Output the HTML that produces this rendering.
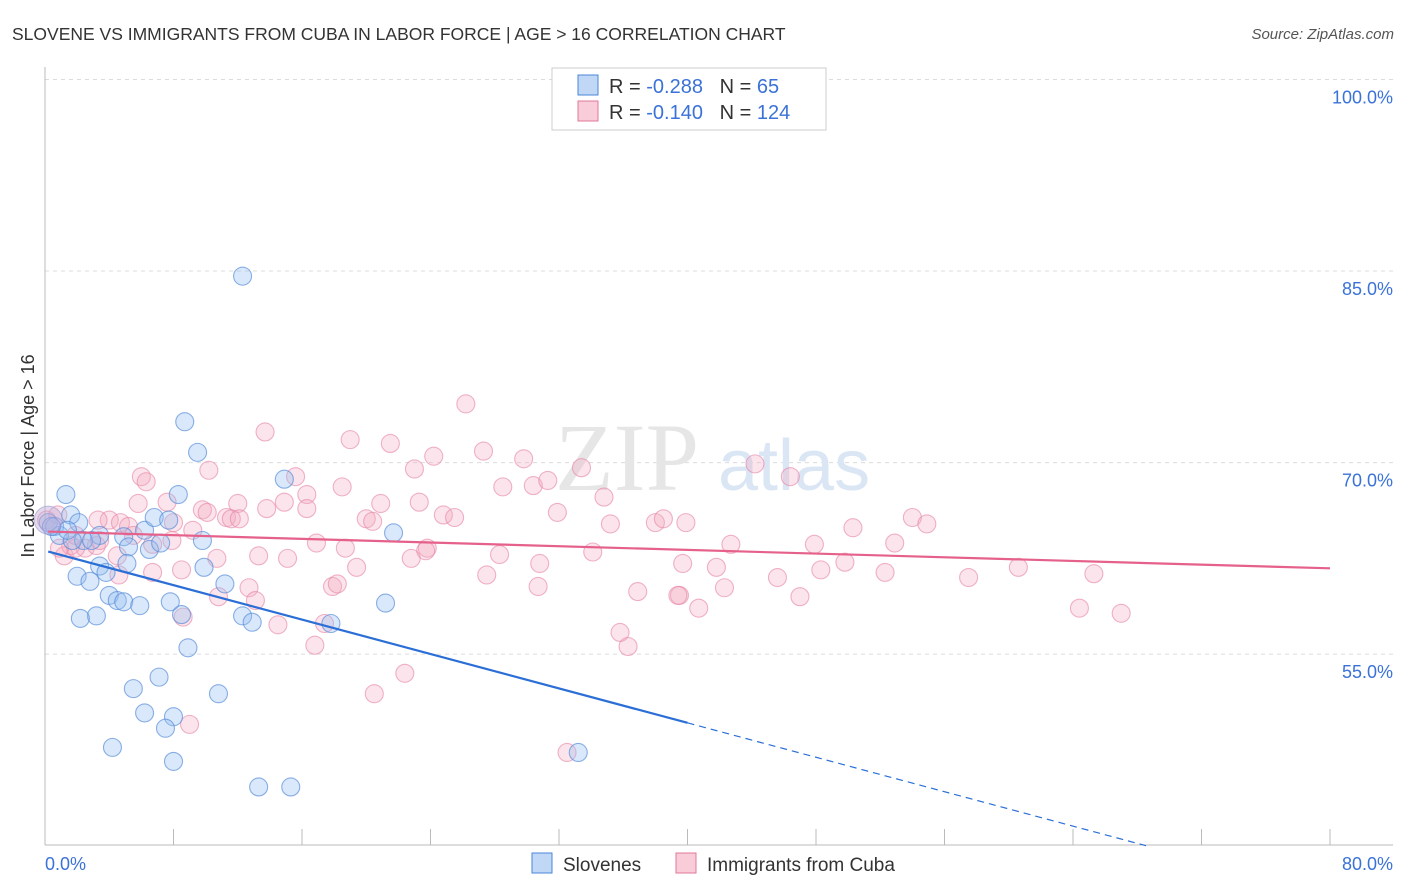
<!DOCTYPE html>
<html><head><meta charset="utf-8"><style>
body{margin:0;background:#fff;font-family:"Liberation Sans",sans-serif}
#c{position:absolute;left:0;top:0}
</style></head><body>
<svg id="c" width="1406" height="892" xmlns="http://www.w3.org/2000/svg"></svg>
<script>
const blueX=[12.3,8.7,9.5,1.3,8.3,14.9,1.6,0.2,0.6,2.1,6.2,6.8,7.7,0.9,2.4,3.4,4.9,5.2,6.5,7.2,9.8,21.7,3.4,5.1,3.8,2.0,2.8,9.9,11.2,4.0,4.5,4.9,5.9,7.8,8.5,3.2,2.2,12.3,12.9,17.8,21.2,8.9,5.5,7.1,10.8,6.2,8.0,7.5,4.2,8.0,13.3,15.3,33.2,1.7,2.9,1.4,0.4];
const blueY=[84.6,73.2,70.8,67.5,67.5,68.7,65.9,65.3,65.0,65.3,64.7,65.7,65.5,64.3,63.9,64.3,64.2,63.4,63.2,63.7,63.9,64.5,61.9,62.1,61.4,61.1,60.7,61.8,60.5,59.6,59.2,59.1,58.8,59.1,58.1,58.0,57.8,58.0,57.5,57.4,59.0,55.5,52.3,53.2,51.9,50.4,50.1,49.2,47.7,46.6,44.6,44.6,47.3,63.9,63.9,64.7,65.0];
const pinkX=[26.2,13.7,19.0,21.5,27.3,24.2,29.8,10.2,23.0,33.4,15.6,6.0,6.3,28.5,30.4,31.3,46.4,44.2,16.3,14.9,18.5,20.9,23.3,7.6,12.0,5.8,13.8,16.3,9.8,10.1,11.3,11.6,12.1,8.0,9.2,20.0,20.4,24.8,25.5,31.9,34.8,35.2,38.0,38.5,39.9,50.3,54.0,54.9,4.0,4.7,5.2,3.3,5.5,2.5,3.2,1.2,1.6,1.9,4.5,7.9,10.7,13.3,16.9,18.7,23.8,23.7,28.3,30.8,34.1,39.7,42.7,47.9,52.9,41.8,45.6,48.3,49.8,52.3,57.5,60.6,65.3,6.7,8.5,15.1,19.4,22.8,4.6,12.7,17.9,18.2,27.5,30.7,36.9,39.5,42.3,47.0,10.8,13.1,8.6,14.5,17.4,16.8,22.4,20.5,35.8,36.3,40.7,9.0,32.5,64.4,67.0,39.4,0.1,0.8,3.4,6.7,1.9,0.9];
const pinkY=[74.6,72.4,71.8,71.5,70.9,70.5,70.3,69.4,69.5,69.6,68.9,68.9,68.5,68.1,68.2,68.6,68.9,69.9,67.5,66.9,68.1,66.8,66.9,66.9,66.8,66.8,66.4,66.4,66.3,66.1,65.7,65.6,65.6,65.3,64.7,65.6,65.4,65.9,65.7,66.1,67.3,65.2,65.3,65.6,65.3,64.9,65.7,65.2,65.5,65.3,65.0,65.5,64.3,63.3,63.5,62.7,63.5,63.3,62.7,63.9,62.5,62.7,63.7,63.3,63.3,63.1,62.8,62.1,63.0,62.1,63.6,63.6,63.7,61.8,61.0,61.6,62.2,61.4,61.0,61.8,61.3,61.4,61.6,62.5,61.8,62.5,61.2,60.2,60.3,60.5,61.2,60.3,59.9,59.6,60.2,59.5,59.5,59.2,57.9,57.3,57.4,55.7,53.5,51.9,56.7,55.6,58.6,49.5,47.3,58.6,58.2,59.6,65.5,65.9,63.9,63.6,64.3,63.3];
const blueTrend=[63.1,-0.337]; // intercept, slope
const pinkTrend=[64.6,-0.036];
const yTicks=[55,70,85,100];
const yTickLabels=["55.0%","70.0%","85.0%","100.0%"];
const xTicks=[0,8,16,24,32,40,48,56,64,72,80];

const svg=document.getElementById('c');
const NS='http://www.w3.org/2000/svg';
const X=v=>45+v*16.0625;
const Y=v=>79.5+(100-v)*12.77;
function mk(t,a,txt){const e=document.createElementNS(NS,t);for(const k in a)e.setAttribute(k,a[k]);if(txt!==undefined)e.textContent=txt;svg.appendChild(e);return e;}

yTicks.forEach((v,i)=>{
  const g=mk('line',{x1:45,x2:1393,y1:Y(v),y2:Y(v),stroke:'#dcdcdc','stroke-dasharray':'4,4'});
  
  
  const t=mk('text',{x:1393,y:Y(v)+24,'text-anchor':'end','font-size':18,fill:'#3a72d8'},yTickLabels[i]);
  
  
});
let a=mk('line',{x1:45,x2:45,y1:67,y2:845,stroke:'#bbb'});


a=mk('line',{x1:45,x2:1393,y1:845,y2:845,stroke:'#bbb'});


xTicks.forEach(v=>{
  const t=mk('line',{x1:X(v),x2:X(v),y1:829,y2:845,stroke:'#bbb'});
  
  
});
let w=mk('text',{x:555,y:490,'font-size':96,fill:'#e6e6e6','font-family':'Liberation Serif,serif'},'ZIP');


w=mk('text',{x:718,y:490,'font-size':72,fill:'#dbe6f5'},'atlas');



pinkX.forEach((x,i)=>{
  const c=mk('circle',{cx:X(x),cy:Y(pinkY[i]),r:9,fill:'rgba(244,170,192,0.32)',stroke:'rgba(230,130,165,0.6)','stroke-width':1.1});
  
  
});
blueX.forEach((x,i)=>{
  const c=mk('circle',{cx:X(x),cy:Y(blueY[i]),r:9,fill:'rgba(150,190,240,0.36)',stroke:'rgba(80,135,215,0.65)','stroke-width':1.1});
  
  
});
let big=mk('circle',{cx:X(0.2),cy:Y(65.5),r:14,fill:'rgba(190,170,215,0.45)',stroke:'rgba(150,150,210,0.6)'});



const bx1=0.2,bx2=40,bx3=(40-blueTrend[0])/blueTrend[1];
let l=mk('line',{x1:X(bx1),y1:Y(blueTrend[0]+blueTrend[1]*bx1),x2:X(bx2),y2:Y(blueTrend[0]+blueTrend[1]*bx2),stroke:'#2b6fd6','stroke-width':2.2});


l=mk('line',{x1:X(bx2),y1:Y(blueTrend[0]+blueTrend[1]*bx2),x2:X(bx3),y2:Y(40),stroke:'#2b6fd6','stroke-width':1.2,'stroke-dasharray':'7,5'});


l=mk('line',{x1:X(0.2),y1:Y(pinkTrend[0]),x2:X(80),y2:Y(pinkTrend[0]+pinkTrend[1]*80),stroke:'#e5608a','stroke-width':2.2});



let t=mk('text',{x:12,y:40,'font-size':17.5,fill:'#333'},'SLOVENE VS IMMIGRANTS FROM CUBA IN LABOR FORCE | AGE > 16 CORRELATION CHART');


t=mk('text',{x:1394,y:39,'font-size':15,'font-style':'italic',fill:'#555','text-anchor':'end'},'Source: ZipAtlas.com');


t=mk('text',{x:34,y:456,'font-size':18,fill:'#333','text-anchor':'middle',transform:'rotate(-90 34 456)'},'In Labor Force | Age > 16');


t=mk('text',{x:45,y:870,'font-size':18,fill:'#3a72d8'},'0.0%');


t=mk('text',{x:1393,y:870,'font-size':18,fill:'#3a72d8','text-anchor':'end'},'80.0%');



let b=mk('rect',{x:552,y:68,width:274,height:62,fill:'#fff',stroke:'#ccc'});


[[78,'rgba(150,190,240,0.6)','#4a86d8','-0.288',' 65'],[104,'rgba(244,170,192,0.6)','#e07898','-0.140','124']].forEach(r=>{
  const s=mk('rect',{x:578,y:r[0]-3,width:20,height:20,fill:r[1],stroke:r[2]});
  
  
  const tx=mk('text',{x:609,y:r[0]+15,'font-size':20,fill:'#333'});
  tx.innerHTML='R = <tspan fill="#3a72d8">'+r[3]+'</tspan>&#160;&#160;&#160;N = <tspan fill="#3a72d8">'+r[4]+'</tspan>';
  
  
});
[[532,'rgba(150,190,240,0.6)','#4a86d8','Slovenes','legend-slovenes'],[676,'rgba(244,170,192,0.6)','#e07898','Immigrants from Cuba','legend-cuba']].forEach(r=>{
  const s=mk('rect',{x:r[0],y:853,width:20,height:20,fill:r[1],stroke:r[2]});
  
  
  const tx=mk('text',{x:r[0]+31,y:871,'font-size':19,fill:'#333'},r[3]);
  
  
});
</script>
</body></html>
